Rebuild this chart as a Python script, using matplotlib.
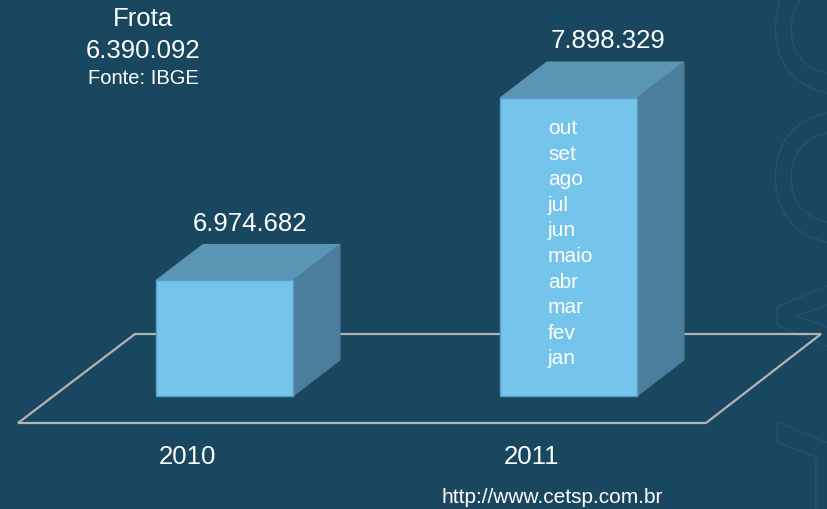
import numpy as np
import matplotlib.pyplot as plt
import matplotlib.transforms as mtransforms
import matplotlib.patheffects as pe
from matplotlib.patches import Polygon

plt.rcParams['font.family'] = ['Liberation Sans', 'DejaVu Sans']

# data
years = ["2010", "2011"]
frota = [6974682, 7898329]
frota_labels = ["6.974.682", "7.898.329"]
base_value = 6390092
base_label = "6.390.092"
months_2011 = ["out", "set", "ago", "jul", "jun", "maio", "abr", "mar", "fev", "jan"]

W, H = 827, 510
bg = "#19475f"
front_c = "#74c4ec"
top_c = "#5a95b6"
side_c = "#4b7e9c"
edge_c = "#5c9dc6"
floor_c = "#b4b4b4"

fig = plt.figure(figsize=(W / 100, H / 100), dpi=100, facecolor=bg)
ax = fig.add_axes([0, 0, 1, 1])
ax.set_facecolor(bg)
ax.axis("off")

# pixel transform for decoration (origin top-left)
px = mtransforms.Affine2D().scale(1 / W, -1 / H).translate(0, 1) + fig.transFigure

# scales: x in category units, y in vehicle count
x_ppu = 344.0
y_ppu = 298.0 / (frota[1] - base_value)
x0_left = 224.5 / x_ppu
ax.set_xlim(-x0_left, -x0_left + W / x_ppu)
ax.set_ylim(base_value - 113 / y_ppu, base_value + 397 / y_ppu)

# faint watermark letters on the right edge
ax.text(778, -45, "OOV A", transform=px, rotation=-90, rotation_mode="anchor",
        ha="left", va="baseline", fontsize=138, color=bg, zorder=0,
        path_effects=[pe.Stroke(linewidth=1.8, foreground="#26546c"), pe.Normal()])

# floor
floor = Polygon([(135, 335), (821, 335), (706, 424), (18, 424)], closed=True,
                transform=px, facecolor="none", edgecolor=floor_c, lw=1.6, zorder=1)
ax.add_patch(floor)

x = np.arange(len(years))
width = 137 / x_ppu
dx = 47 / x_ppu
dy = 36 / y_ppu

ax.bar(x, np.array(frota) - base_value, bottom=base_value, width=width,
       color=front_c, edgecolor=edge_c, linewidth=1, zorder=4)

for xi, v in zip(x, frota):
    l, r = xi - width / 2, xi + width / 2
    top = Polygon([(l, v), (r, v), (r + dx, v + dy), (l + dx, v + dy)],
                  facecolor=top_c, edgecolor=top_c, lw=0.8, zorder=3)
    side = Polygon([(r, base_value), (r + dx, base_value + dy), (r + dx, v + dy), (r, v)],
                   facecolor=side_c, edgecolor=side_c, lw=0.8, zorder=3)
    ax.add_patch(top)
    ax.add_patch(side)

# value labels above bars
label_off = [mtransforms.ScaledTranslation(2 / 100, 14 / 100, fig.dpi_scale_trans),
             mtransforms.ScaledTranslation(16 / 100, 14.5 / 100, fig.dpi_scale_trans)]
for xi, v, lab, off in zip(x, frota, frota_labels, label_off):
    ax.text(xi + dx / 2, v + dy, lab, transform=ax.transData + off,
            ha="center", va="baseline", fontsize=18.5, color="white", zorder=5)

# year labels
for xi, yr in zip(x, years):
    ax.text(xi - 37 / x_ppu, base_value - 67 / y_ppu, yr, ha="center", va="baseline",
            fontsize=18.5, color="white", zorder=5)

# months inside 2011 bar
for k, m in enumerate(months_2011):
    ax.text(548, 134 + k * 25.6, m, transform=px, ha="left", va="baseline",
            fontsize=15, color="white", zorder=5)

# header
ax.text(143, 26, "Frota", transform=px, ha="center", va="baseline",
        fontsize=18.5, color="white")
ax.text(143, 58, base_label, transform=px, ha="center", va="baseline",
        fontsize=18.5, color="white")
ax.text(143.5, 84, "Fonte: IBGE", transform=px, ha="center", va="baseline",
        fontsize=14.5, color="white")

ax.text(552, 503, "http://www.cetsp.com.br", transform=px, ha="center", va="baseline",
        fontsize=15, color="white")

fig.savefig("out.png", dpi=100, facecolor=bg)
